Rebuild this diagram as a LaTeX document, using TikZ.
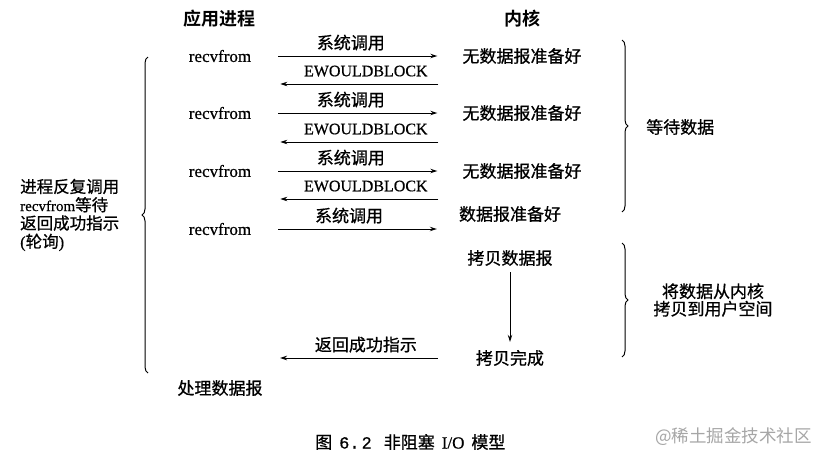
\documentclass[tikz,border=0pt]{standalone}
\usepackage{fontspec}
\setmainfont{Liberation Serif}[FakeBold=0.5]
\newfontfamily\cjk{Noto Sans CJK SC}[FakeBold=0.8]
\newfontfamily\cjkh{Noto Sans CJK SC Bold}
\newfontfamily\cjkw{Noto Sans CJK SC}
\newfontfamily\mono{Liberation Mono}[FakeBold=0.5]
\usetikzlibrary{arrows.meta,decorations.pathreplacing,calc}
\begin{document}
\begin{tikzpicture}[x=1pt,y=-1pt,
  cn/.style={font=\cjk\fontsize{17}{17}\selectfont, inner sep=0pt},
  hd/.style={font=\cjkh\fontsize{18}{18}\selectfont, inner sep=0pt},
  lt/.style={font=\fontsize{17}{17}\selectfont, inner sep=0pt},
  ew/.style={font=\fontsize{16}{16}\selectfont, inner sep=0pt},
  conn/.style={line width=1pt, -{Stealth[length=7pt,width=4.5pt]}},
  brc/.style={line width=1pt, decorate, decoration={brace, amplitude=6pt}},
]
\useasboundingbox[fill=white] (0,0) rectangle (828,461);

% headings
\node[hd] (app) at (219,19) {应用进程};
\node[hd] (ker) at (522,19) {内核};

% application column
\node[lt] (r1) at (220,56) {recvfrom};
\node[lt] (r2) at (220,113) {recvfrom};
\node[lt] (r3) at (220,171) {recvfrom};
\node[lt] (r4) at (220,229) {recvfrom};

% kernel column
\node[cn] (k1) at (522,56) {无数据报准备好};
\node[cn] (k2) at (522,113) {无数据报准备好};
\node[cn] (k3) at (522,171) {无数据报准备好};
\node[cn] (k4) at (510,214) {数据报准备好};
\node[cn] (c1) at (510,258) {拷贝数据报};
\node[cn] (c2) at (510,358) {拷贝完成};
\node[cn] (proc) at (220,388) {处理数据报};
\coordinate (ret) at (280,358);

% system calls
\draw[conn, shorten <=27pt, shorten >=25pt] (r1.east) -- (k1.west)
  node[midway, above=5pt, cn, xshift=-6pt] {系统调用};
\draw[conn, shorten <=27pt, shorten >=25pt] (r2.east) -- (k2.west)
  node[midway, above=5pt, cn, xshift=-6pt] {系统调用};
\draw[conn, shorten <=27pt, shorten >=25pt] (r3.east) -- (k3.west)
  node[midway, above=5pt, cn, xshift=-6pt] {系统调用};
\draw[conn, shorten <=27pt, shorten >=22pt] (r4.east) -- (r4.east -| k4.west)
  node[midway, above=5pt, cn, xshift=-6pt] {系统调用};

% EWOULDBLOCK returns
\draw[conn, shorten <=24pt, shorten >=29pt] ($(k1.west)+(0,28)$) -- ($(k1.west -| r1.east)+(0,28)$)
  node[midway, above=7pt, ew, xshift=9pt] {EWOULDBLOCK};
\draw[conn, shorten <=24pt, shorten >=29pt] ($(k2.west)+(0,29)$) -- ($(k2.west -| r2.east)+(0,29)$)
  node[midway, above=7pt, ew, xshift=9pt] {EWOULDBLOCK};
\draw[conn, shorten <=24pt, shorten >=29pt] ($(k3.west)+(0,28)$) -- ($(k3.west -| r3.east)+(0,28)$)
  node[midway, above=7pt, ew, xshift=9pt] {EWOULDBLOCK};

% copy
\draw[conn, shorten <=6pt, shorten >=8pt] (c1) -- (c2);
\draw[conn, shorten <=38pt] (c2.west) -- (ret)
  node[midway, above=5pt, cn, xshift=-12pt] {返回成功指示};

% braces
\draw[brc] (148,373) -- (148,57);
\node[anchor=west, align=left, inner sep=0pt, font=\fontsize{16.5}{18.3}\selectfont] (poll) at (20,215)
  {{\cjk 进程反复调用}\\{\fontsize{15}{18.3}\selectfont recvfrom}{\cjk 等待}\\{\cjk 返回成功指示}\\({\cjk 轮询})};

\draw[brc] (622,40) -- (622,212);
\node[cn, anchor=west] (wait) at (646,127) {等待数据};

\draw[brc] (622,243) -- (622,357);
\node[cn, align=center, font=\cjk\fontsize{17}{17.5}\selectfont] (copy) at (713,300) {将数据从内核\\拷贝到用户空间};

% caption and watermark
\node[inner sep=0pt, font=\fontsize{17}{17}\selectfont, anchor=west] (cap) at (315,442)
  {{\cjk 图}\hspace{7pt}{\mono 6.\hspace{2pt}2}\hspace{12pt}{\cjk 非阻塞}\hspace{7pt}I/O\hspace{7pt}{\cjk 模型}};
\node[inner sep=0pt, font=\cjkw\fontsize{17.5}{17.5}\selectfont, text=black!35, anchor=east] (wm) at (812,437) {@稀土掘金技术社区};
\end{tikzpicture}
\end{document}
